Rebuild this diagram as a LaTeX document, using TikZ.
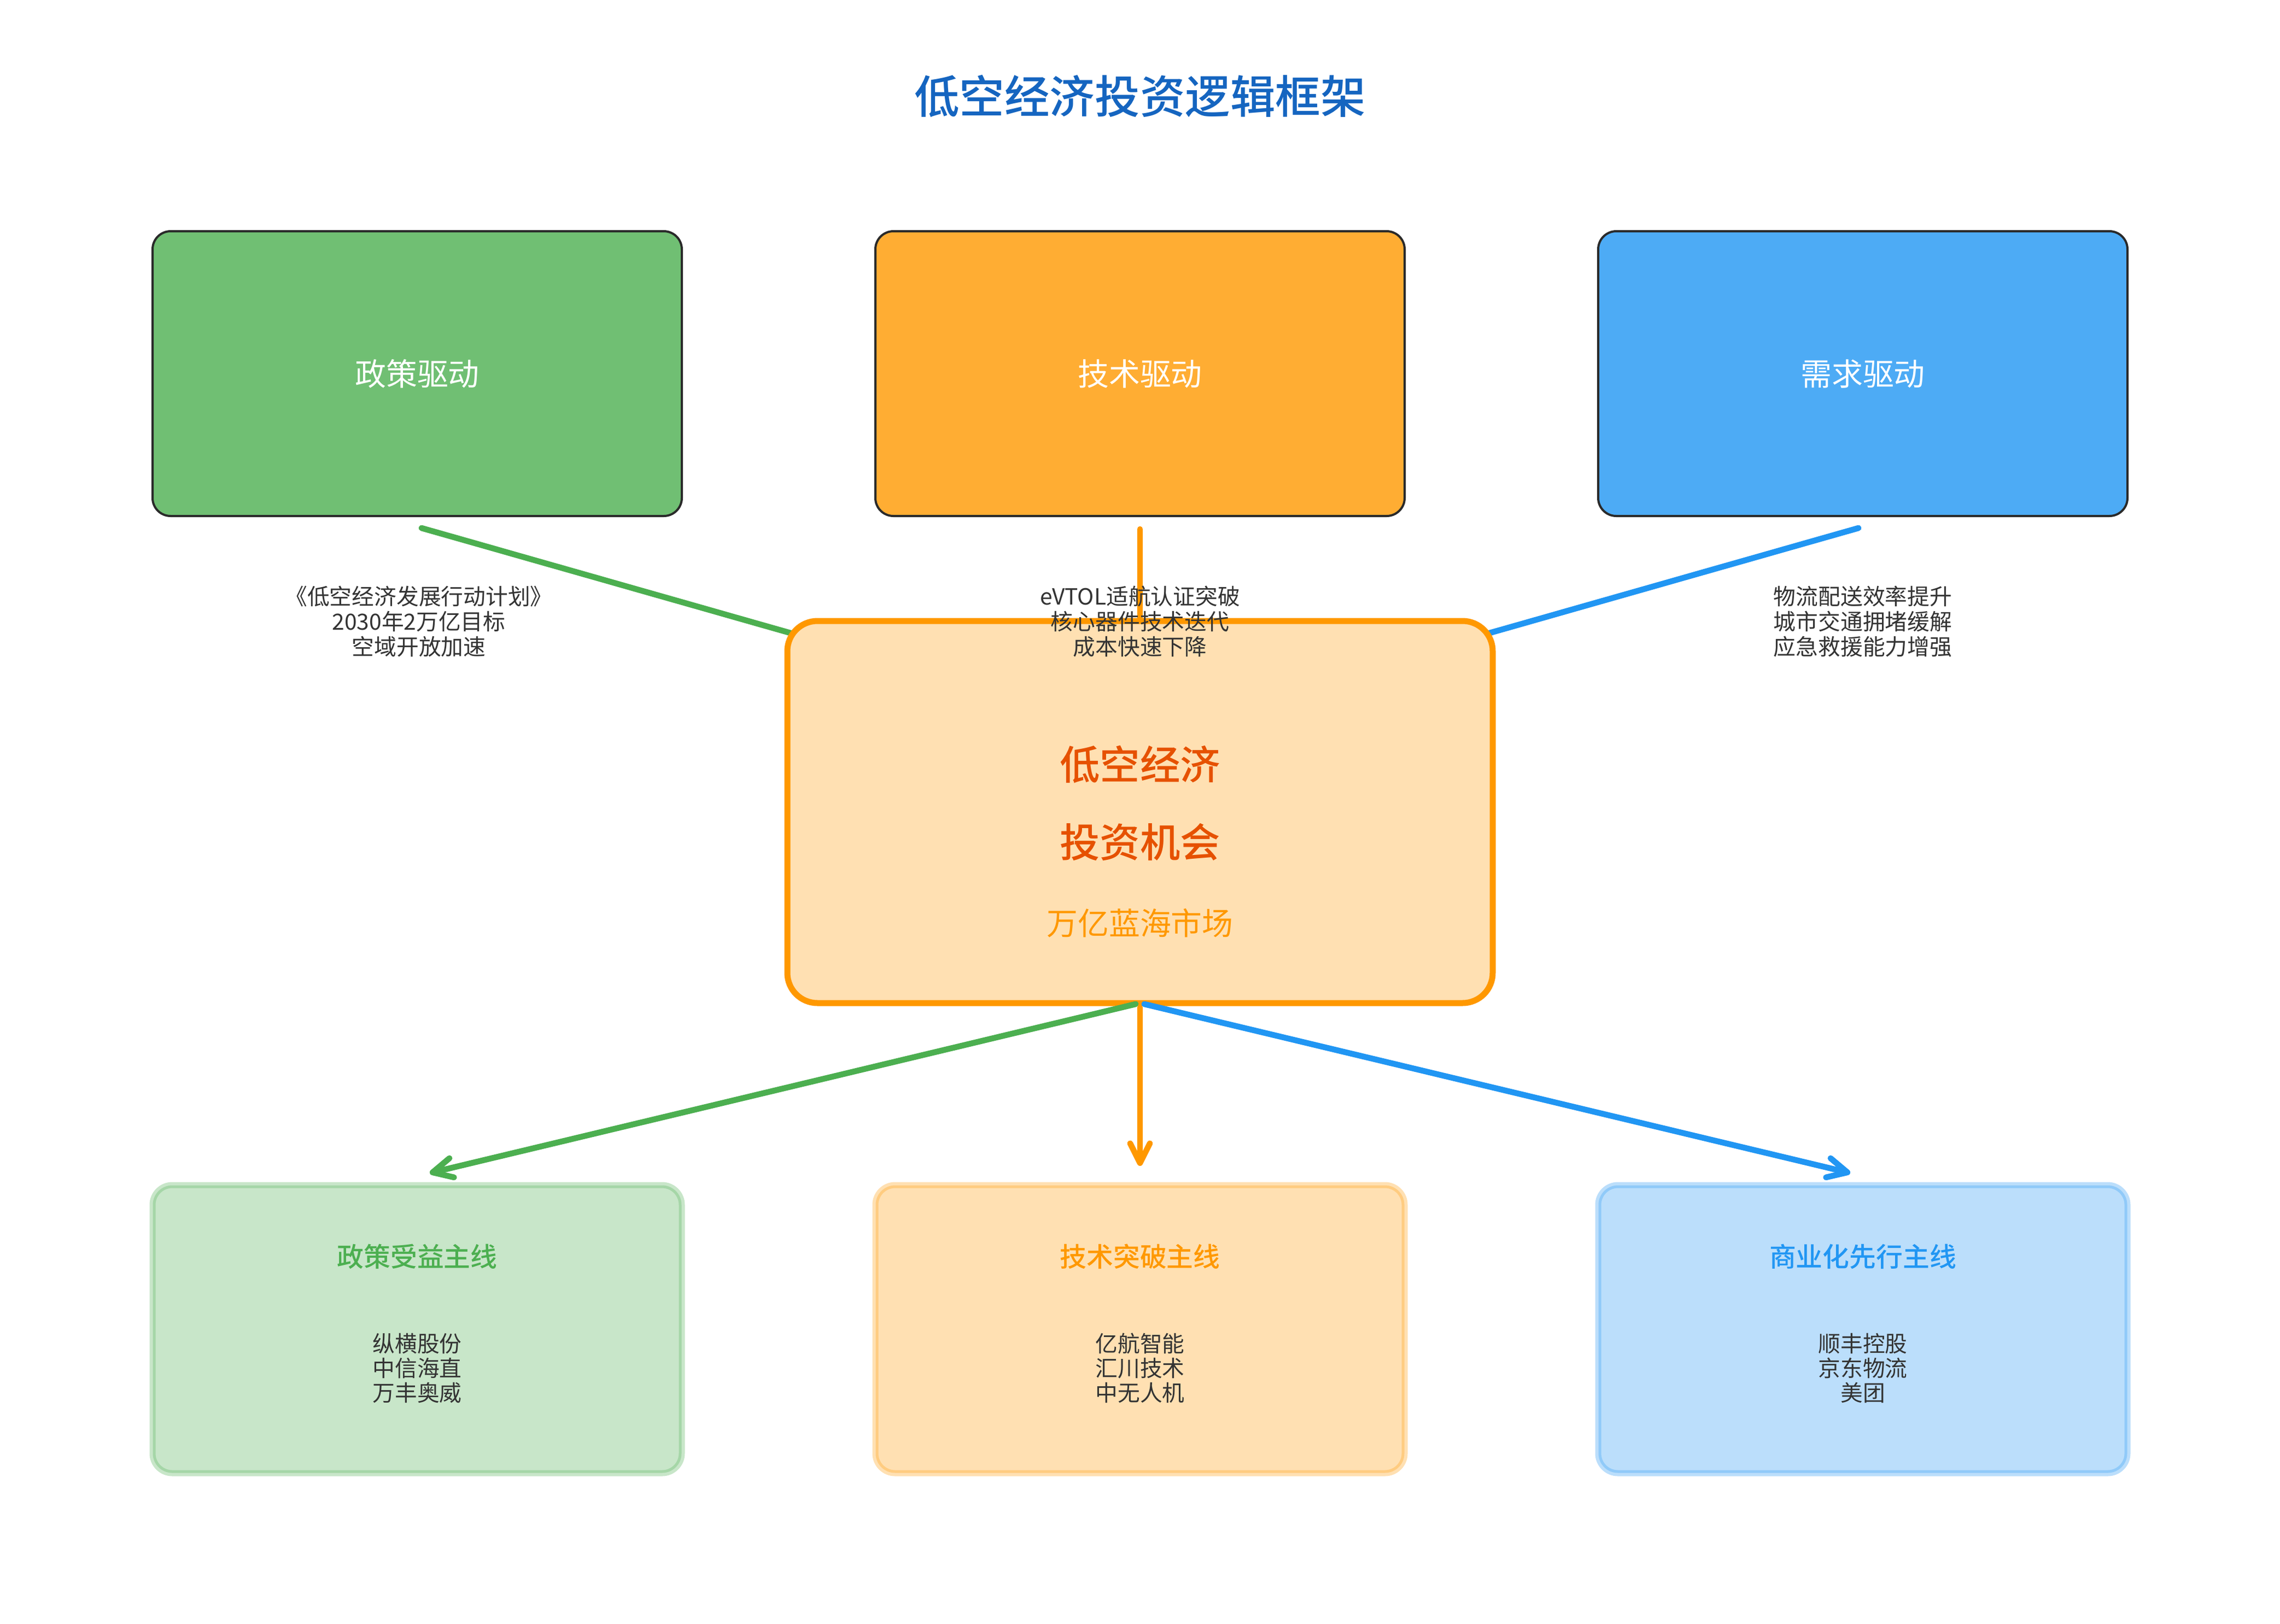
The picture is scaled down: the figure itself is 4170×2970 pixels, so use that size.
\documentclass[tikz,border=0pt]{standalone}
\usepackage{fontspec}
\setmainfont{Noto Sans CJK SC}[BoldFont={Noto Sans CJK SC Medium}]
\usetikzlibrary{arrows.meta,calc}
\definecolor{gMain}{HTML}{4CAF50}
\definecolor{oMain}{HTML}{FF9800}
\definecolor{bMain}{HTML}{2196F3}
\definecolor{gLight}{HTML}{C8E6C9}
\definecolor{gBand}{HTML}{A5D6A7}
\definecolor{oLight}{HTML}{FFE0B2}
\definecolor{oBand}{HTML}{FFCC80}
\definecolor{bLight}{HTML}{BBDEFB}
\definecolor{bBand}{HTML}{90CAF9}
\definecolor{titleBlue}{HTML}{1565C0}
\definecolor{deepOrange}{HTML}{E65100}
\definecolor{txtGray}{HTML}{333333}
\definecolor{edgeDark}{HTML}{2A2A2A}
\begin{document}
\begin{tikzpicture}[x=0.1mm,y=-0.1mm,
  drvbox/.style={rectangle, rounded corners=3.3mm, draw=edgeDark, line width=0.4mm,
    minimum width=96.8mm, minimum height=52.1mm, inner sep=0pt, outer sep=0pt,
    text=white, font=\fontsize{16.2}{19}\selectfont},
  hubbox/.style={rectangle, rounded corners=5.5mm, fill=oLight, draw=oMain, line width=1.1mm,
    minimum width=129mm, minimum height=69.9mm, inner sep=0pt, outer sep=0pt},
  linebox/.style={rectangle, rounded corners=3.3mm, line width=0.6mm, double distance=0.5mm,
    minimum width=96.2mm, minimum height=52.1mm, inner sep=0pt, outer sep=0pt},
  feedline/.style={line width=1.07mm, line cap=round},
  fedge/.style={feedline, shorten <=0.8mm, -{Straight Barb[length=3.6mm,width=3.6mm,round]}},
  lbl/.style={align=center, text=txtGray, inner sep=0pt, font=\fontsize{11.6}{13.1}\selectfont},
  linetitle/.style={inner sep=0pt, font=\bfseries\fontsize{13.9}{16}\selectfont},
  items/.style={align=center, text=txtGray, inner sep=0pt, font=\fontsize{11.6}{12.8}\selectfont}
]
\useasboundingbox (0,0) rectangle (4170,2970);
\fill[white] (0,0) rectangle (4170,2970);

% title
\node[inner sep=0pt, text=titleBlue, font=\bfseries\fontsize{23.5}{28}\selectfont] (title) at (2085,176) {低空经济投资逻辑框架};

% coordinates for connectors
\coordinate (sP) at (771,966);
\coordinate (sT) at (2085,968);
\coordinate (sD) at (3399,966);
\coordinate (hubpt) at (2085,1340);
\coordinate (tipG) at (786,2146);
\coordinate (tipO) at (2085,2133);
\coordinate (tipB) at (3384,2146);

% upper connectors (under the hub box)
\draw[feedline, draw=gMain] (sP) -- (hubpt);
\draw[feedline, draw=oMain] (sT) -- (hubpt);
\draw[feedline, draw=bMain] (sD) -- (hubpt);

% hub box
\node[hubbox] (core) at (2085,1485.5) {};
\node[inner sep=0pt, text=deepOrange, font=\bfseries\fontsize{20.9}{25}\selectfont] (c1) at (2085,1398) {低空经济};
\node[inner sep=0pt, text=deepOrange, font=\bfseries\fontsize{20.9}{25}\selectfont] (c2) at (2085,1541) {投资机会};
\node[inner sep=0pt, text=oMain, font=\fontsize{16.2}{19}\selectfont] (c3) at (2085,1689) {万亿蓝海市场};

% driver boxes
\node[drvbox, fill=gMain!80!white] (dP) at (763,683.5) {政策驱动};
\node[drvbox, fill=oMain!80!white] (dT) at (2085,683.5) {技术驱动};
\node[drvbox, fill=bMain!80!white] (dD) at (3407,683.5) {需求驱动};

% line boxes
\node[linebox, fill=gLight, draw=gLight, double=gBand] (lP) at (763,2431.5) {};
\node[linebox, fill=oLight, draw=oLight, double=oBand] (lT) at (2085,2431.5) {};
\node[linebox, fill=bLight, draw=bLight, double=bBand] (lD) at (3407,2431.5) {};

% lower connectors
\draw[fedge, draw=gMain] (core.south) -- (tipG);
\draw[fedge, draw=oMain] (core.south) -- (tipO);
\draw[fedge, draw=bMain] (core.south) -- (tipB);

% driver notes
\node[lbl] (nP) at (766,1137) {《低空经济发展行动计划》\\2030年2万亿目标\\空域开放加速};
\node[lbl] (nT) at (2085,1137) {eVTOL适航认证突破\\核心器件技术迭代\\成本快速下降};
\node[lbl] (nD) at (3407,1137) {物流配送效率提升\\城市交通拥堵缓解\\应急救援能力增强};

% line titles and items
\node[linetitle, text=gMain] (hP) at (763,2299) {政策受益主线};
\node[linetitle, text=oMain] (hT) at (2085,2299) {技术突破主线};
\node[linetitle, text=bMain] (hD) at (3407,2299) {商业化先行主线};
\node[items] (iP) at (763,2503) {纵横股份\\中信海直\\万丰奥威};
\node[items] (iT) at (2085,2503) {亿航智能\\汇川技术\\中无人机};
\node[items] (iD) at (3407,2503) {顺丰控股\\京东物流\\美团};
\end{tikzpicture}
\end{document}
